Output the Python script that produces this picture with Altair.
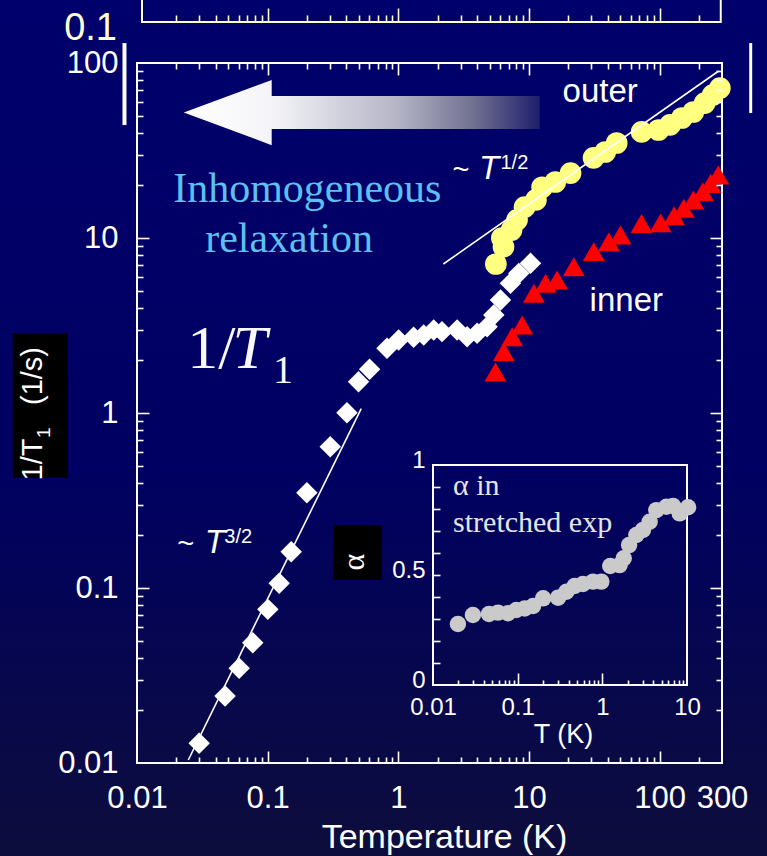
import altair as alt
import pandas as pd

# ---------------- data ----------------
diamond_T = [0.0299, 0.0472, 0.0605, 0.0769, 0.1003, 0.1225, 0.1514, 0.1995, 0.3013, 0.4044,
             0.496, 0.6026, 0.819, 1.005, 1.31, 1.563, 1.865, 2.16, 2.818, 3.36, 4.01, 4.78,
             5.38, 6.05, 7.21, 8.36, 10.27]
diamond_rate = [0.01296, 0.02415, 0.03476, 0.0487, 0.0755, 0.1064, 0.1612, 0.3504, 0.6418, 1.004,
                1.51, 1.777, 2.343, 2.612, 2.707, 2.79, 2.98, 2.917, 2.98, 2.73, 2.853, 3.113,
                3.63, 4.42, 5.51, 6.28, 7.17]
outer_T = [5.58, 6.38, 6.2, 7.35, 8.1, 9.25, 11.3, 12.6, 15.9, 20.8, 31.2, 38.3, 46.9, 72.8,
           98, 120, 148, 181, 221, 254, 289]
outer_rate = [7.1, 8.9, 10.0, 11.1, 12.7, 15.0, 16.5, 19.5, 20.9, 23.5, 28.7, 31.0, 34.9, 40.4,
              41.4, 44.3, 48.5, 52.5, 59.0, 65.6, 71.9]
inner_T = [5.54, 6.41, 7.43, 8.87, 10.9, 13.4, 16.4, 22.0, 31.3, 40.9, 50.1, 72.6, 101.8,
           128.9, 152.8, 181, 214, 245, 280.5]
inner_rate = [1.715, 2.24, 2.73, 3.18, 4.83, 5.51, 5.75, 6.86, 8.36, 9.53, 10.4, 12.1, 12.2,
              13.4, 14.8, 16.5, 18.4, 20.5, 22.9]
fit_half_T = [2.21, 283]
fit_half_rate = [7.1, 90]
fit_threehalf_T = [0.0247, 0.52]
fit_threehalf_rate = [0.0104, 1.06]

alpha_T = [0.0197, 0.0296, 0.0458, 0.0586, 0.0769, 0.0964, 0.121, 0.152, 0.2, 0.3, 0.376,
           0.471, 0.591, 0.776, 0.973, 1.24, 1.6, 1.79, 2.07, 2.52, 3.02, 3.62, 4.34, 5.7,
           6.84, 8.2, 10.3]
alpha_val = [0.277, 0.318, 0.323, 0.329, 0.326, 0.341, 0.348, 0.359, 0.394, 0.397, 0.424,
             0.45, 0.459, 0.47, 0.47, 0.541, 0.545, 0.576, 0.636, 0.682, 0.705, 0.742, 0.795,
             0.81, 0.814, 0.78, 0.808]

# tick values / labels
main_x_labels = [0.01, 0.1, 1, 10, 100, 300]
main_y_labels = [0.01, 0.1, 1, 10, 100]
main_x_major = [0.1, 1, 10, 100]
main_x_minor = [0.02, 0.03, 0.04, 0.05, 0.06, 0.07, 0.08, 0.09,
                0.2, 0.3, 0.4, 0.5, 0.6, 0.7, 0.8, 0.9,
                2, 3, 4, 5, 6, 7, 8, 9,
                20, 30, 40, 50, 60, 70, 80, 90, 200]
main_y_major = [0.1, 1, 10]
main_y_minor = [0.02, 0.03, 0.04, 0.05, 0.06, 0.07, 0.08, 0.09,
                0.2, 0.3, 0.4, 0.5, 0.6, 0.7, 0.8, 0.9,
                2, 3, 4, 5, 6, 7, 8, 9,
                20, 30, 40, 50, 60, 70, 80, 90]
inset_x_labels = [0.01, 0.1, 1, 10]
inset_x_major = [0.1, 1]
inset_x_minor = [0.02, 0.03, 0.04, 0.05, 0.06, 0.07, 0.08, 0.09,
                 0.2, 0.3, 0.4, 0.5, 0.6, 0.7, 0.8, 0.9,
                 2, 3, 4, 5, 6, 7, 8, 9]
inset_y_labels = [0, 0.5, 1]
inset_y_ticks = [0.1, 0.2, 0.3, 0.4, 0.5, 0.6, 0.7, 0.8, 0.9]

# decoration anchors (in data units of the main / inset scales)
main_frame = dict(x=[0.01], x2=[300], y=[0.01], y2=[100])
inset_frame = dict(x=[0.01], x2=[10], y=[0.0], y2=[1.0])
top_panel = dict(x=[0.01092], x2=[293.5], y=[171.4], y2=[400.0])
side_bars = dict(x=[0.00802, 497.6], y=[130.0, 130.0], y2=[44.2, 51.8], w=[4, 3])

# ---------------- scales ----------------
W, H = 767, 856
MX = dict(type='log', domain=[0.01, 300], range=[137, 722], nice=False)
MY = dict(type='log', domain=[0.01, 100], range=[763, 63], nice=False)
IX = dict(type='log', domain=[0.01, 10], range=[433, 687], nice=False)
IY = dict(type='linear', domain=[0, 1], range=[685, 465], nice=False, zero=False)

SANS = 'Liberation Sans'
SERIF = 'Liberation Serif'
CREAM = '#ffffd6'


def enc(xs, ys, xaxis=None, yaxis=None, x2=False, y2=False):
    e = dict(x=alt.X('x:Q', scale=alt.Scale(**xs), axis=xaxis),
             y=alt.Y('y:Q', scale=alt.Scale(**ys), axis=yaxis))
    if x2:
        e['x2'] = alt.X2('x2:Q')
    if y2:
        e['y2'] = alt.Y2('y2:Q')
    return e


def text_layer(items, xs, ys, **mark):
    df = pd.DataFrame(items, columns=['x', 'y', 't'])
    return alt.Chart(df).mark_text(**mark).encode(text='t:N', **enc(xs, ys))


def tick_axis(orient, offset, values, size, color='#ffffff', width=1.6):
    return alt.Axis(orient=orient, offset=offset, values=values, labels=False, domain=False,
                    ticks=True, tickSize=size, tickWidth=width, tickColor=color, grid=False,
                    title=None, zindex=1)


def label_axis(orient, offset, values, fsize, pad, title=None, **kw):
    return alt.Axis(orient=orient, offset=offset, values=values, format='~g', labels=True,
                    ticks=False, tickSize=0, domain=False, grid=False, labelFont=SANS,
                    labelFontSize=fsize, labelColor='#ffffff', labelPadding=pad,
                    labelOverlap=False, labelFlush=False, labelBound=False, zindex=1,
                    title=title, **kw)


axis_df = pd.DataFrame({'x': [1.0], 'y': [0.5]})


def axis_layer(xs, ys, xaxis=None, yaxis=None):
    return alt.Chart(axis_df).mark_point(opacity=0).encode(**enc(xs, ys, xaxis, yaxis))


layers = []

# background gradient
bg_grad = alt.LinearGradient(gradient='linear', x1=0, x2=0, y1=0, y2=1, stops=[
    alt.GradientStop(color='#00006c', offset=0),
    alt.GradientStop(color='#000062', offset=0.55),
    alt.GradientStop(color='#0d0d3c', offset=1)])
layers.append(alt.Chart(pd.DataFrame({'k': [0]})).mark_rect(fill=bg_grad, strokeWidth=0).encode(
    x=alt.value(0), x2=alt.value('width'), y=alt.value(0), y2=alt.value('height')))

# top partial panel (cropped previous figure)
layers.append(alt.Chart(pd.DataFrame(top_panel)).mark_rect(
    fillOpacity=0, stroke=CREAM, strokeWidth=2).encode(**enc(MX, MY, x2=True, y2=True)))
layers.append(text_layer([(0.00703, 135.3, '0.1')], MX, MY, font=SANS, fontSize=38,
                         color=CREAM, align='right', baseline='alphabetic'))
layers.append(axis_layer(MX, MY, xaxis=tick_axis('top', -22, main_x_major, 14, CREAM)))
layers.append(axis_layer(MX, MY, xaxis=tick_axis('top', -22, main_x_minor, 7, CREAM)))

# white side bars
sb = pd.DataFrame(side_bars)
layers.append(alt.Chart(sb).mark_rule(color='#ffffff').encode(
    strokeWidth=alt.StrokeWidth('w:Q', scale=None), **enc(MX, MY, y2=True)))

# gradient arrow
arrow_path = ('M-1,0L-0.506,-0.183L-0.506,-0.093L1,-0.093L1,0.093L-0.506,0.093'
              'L-0.506,0.183Z')
arrow_grad = alt.LinearGradient(gradient='linear', x1=0, x2=1, y1=0, y2=0, stops=[
    alt.GradientStop(color='#ffffff', offset=0),
    alt.GradientStop(color='#f4f4f8', offset=0.25),
    alt.GradientStop(color='#b4b4c6', offset=0.6),
    alt.GradientStop(color='#6e6e90', offset=0.82),
    alt.GradientStop(color='#1e1e6c', offset=1)])
layers.append(alt.Chart(pd.DataFrame({'x': [0.525], 'y': [52.1]})).mark_point(
    shape=arrow_path, size=126736, filled=True, fill=arrow_grad, strokeWidth=0,
    opacity=1).encode(**enc(MX, MY)))

# "Inhomogeneous relaxation"
layers.append(text_layer([(0.201, 16.06, 'Inhomogeneous'), (0.146, 8.32, 'relaxation')],
                         MX, MY, font=SERIF, fontSize=42, color='#5dc1f0', align='center',
                         baseline='alphabetic'))

# big 1/T1 label
layers.append(text_layer([(0.0242, 1.807, '1/')], MX, MY, font=SERIF, fontSize=62,
                         color='#f8f8f8', align='left', baseline='alphabetic'))
layers.append(text_layer([(0.0537, 1.807, 'T')], MX, MY, font=SERIF, fontSize=62,
                         fontStyle='italic', color='#f8f8f8', align='left',
                         baseline='alphabetic'))
layers.append(text_layer([(0.1100, 1.484, '1')], MX, MY, font=SERIF, fontSize=40,
                         color='#f8f8f8', align='left', baseline='alphabetic'))

# y-axis title on a black box
layers.append(alt.Chart(pd.DataFrame(dict(x=[0.00112], x2=[0.00296], y=[2.864], y2=[0.425])))
              .mark_rect(color='#000000').encode(**enc(MX, MY, x2=True, y2=True)))
layers.append(text_layer([(0.00187, 0.412, '1/T'), (0.00187, 1.111, '(1/s)')], MX, MY,
                         font=SANS, fontSize=29, color='#ffffff', align='left',
                         baseline='alphabetic', angle=270))
layers.append(text_layer([(0.00215, 0.72, '1')], MX, MY, font=SANS, fontSize=19,
                         color='#ffffff', align='left', baseline='alphabetic', angle=270))

# main frame
layers.append(alt.Chart(pd.DataFrame(main_frame)).mark_rect(
    fillOpacity=0, stroke='#ffffff', strokeWidth=2).encode(**enc(MX, MY, x2=True, y2=True)))

# data series
layers.append(alt.Chart(pd.DataFrame({'x': diamond_T, 'y': diamond_rate})).mark_point(
    shape='diamond', size=460, filled=True, color='#ffffff', opacity=1).encode(**enc(MX, MY)))
layers.append(alt.Chart(pd.DataFrame({'x': inner_T, 'y': inner_rate})).mark_point(
    shape='triangle-up', size=480, filled=True, color='#ff0000', opacity=1).encode(**enc(MX, MY)))
layers.append(alt.Chart(pd.DataFrame({'x': outer_T, 'y': outer_rate})).mark_point(
    shape='circle', size=470, filled=True, color='#ffff80', opacity=1).encode(**enc(MX, MY)))

# power-law guide lines
layers.append(alt.Chart(pd.DataFrame({'x': fit_half_T, 'y': fit_half_rate})).mark_line(
    color='#ffffff', strokeWidth=1.6).encode(**enc(MX, MY)))
layers.append(alt.Chart(pd.DataFrame({'x': fit_threehalf_T, 'y': fit_threehalf_rate})).mark_line(
    color='#ffffff', strokeWidth=1.6).encode(**enc(MX, MY)))

# annotations
layers.append(text_layer([(18.06, 59.8, 'outer'), (29.1, 3.83, 'inner')], MX, MY, font=SANS,
                         fontSize=33, color='#ffffff', align='left', baseline='alphabetic'))
layers.append(text_layer([(2.60, 21.7, '~'), (0.0203, 0.158, '~')], MX, MY, font=SANS,
                         fontSize=29, color='#ffffff', align='left', baseline='alphabetic'))
layers.append(text_layer([(4.15, 21.7, 'T'), (0.0330, 0.158, 'T')], MX, MY, font=SANS,
                         fontSize=33, fontStyle='italic', color='#ffffff', align='left',
                         baseline='alphabetic'))
layers.append(text_layer([(6.05, 24.8, '1/2'), (0.0466, 0.181, '3/2')], MX, MY, font=SANS,
                         fontSize=20, color='#ffffff', align='left', baseline='alphabetic'))

# inset
layers.append(alt.Chart(pd.DataFrame(inset_frame)).mark_rect(
    fillOpacity=0, stroke='#ffffff', strokeWidth=2).encode(**enc(IX, IY, x2=True, y2=True)))
layers.append(alt.Chart(pd.DataFrame({'x': alpha_T, 'y': alpha_val})).mark_point(
    shape='circle', size=270, filled=True, color='#cacaca', opacity=1).encode(**enc(IX, IY)))
layers.append(text_layer([(0.01726, 0.8636, 'α in'), (0.01726, 0.6955, 'stretched exp')],
                         IX, IY, font=SERIF, fontSize=30, color='#e4e4e4', align='left',
                         baseline='alphabetic'))
layers.append(alt.Chart(pd.DataFrame(dict(x=[0.00067], x2=[0.00248], y=[0.727], y2=[0.477])))
              .mark_rect(color='#000000').encode(**enc(IX, IY, x2=True, y2=True)))
layers.append(text_layer([(0.00116, 0.559, 'α')], IX, IY, font=SERIF, fontSize=32,
                         color='#ffffff', align='center', baseline='middle', angle=270))

# ---------------- axes ----------------
# main: labels
layers.append(axis_layer(
    MX, MY,
    xaxis=label_axis('bottom', 763 - H, main_x_labels, 31, 20, title='Temperature (K)',
                     titleFont=SANS, titleFontSize=34, titleFontWeight='normal',
                     titleColor='#ffffff', titleX=444, titleY=84, titleAlign='center',
                     titleBaseline='alphabetic'),
    yaxis=label_axis('left', -137, main_y_labels, 31, 19)))
# main: inward ticks on bottom / left
layers.append(axis_layer(MX, MY, xaxis=tick_axis('top', -763, main_x_major, 12),
                         yaxis=tick_axis('right', 137 - W, main_y_major, 12)))
layers.append(axis_layer(MX, MY, xaxis=tick_axis('top', -763, main_x_minor, 6),
                         yaxis=tick_axis('right', 137 - W, main_y_minor, 6)))
# main: inward ticks on top / right
layers.append(axis_layer(MX, MY, xaxis=tick_axis('bottom', 63 - H, main_x_major, 12),
                         yaxis=tick_axis('left', -722, main_y_major, 12)))
layers.append(axis_layer(MX, MY, xaxis=tick_axis('bottom', 63 - H, main_x_minor, 6),
                         yaxis=tick_axis('left', -722, main_y_minor, 6)))
# inset axes
layers.append(axis_layer(
    IX, IY,
    xaxis=label_axis('bottom', 685 - H, inset_x_labels, 24, 10, title='T (K)',
                     titleFont=SANS, titleFontSize=27, titleFontWeight='normal',
                     titleColor='#ffffff', titleX=563, titleY=57, titleAlign='center',
                     titleBaseline='alphabetic'),
    yaxis=label_axis('left', -433, inset_y_labels, 24, 8, labelOffset=-5)))
layers.append(axis_layer(IX, IY, xaxis=tick_axis('top', -685, inset_x_major, 12),
                         yaxis=tick_axis('right', 433 - W, inset_y_ticks, 7)))
layers.append(axis_layer(IX, IY, xaxis=tick_axis('top', -685, inset_x_minor, 5)))

chart = (alt.layer(*layers)
         .resolve_scale(x='independent', y='independent')
         .resolve_axis(x='independent', y='independent')
         .properties(width=W, height=H, autosize='none', padding=0, background='#000066')
         .configure_view(strokeWidth=0)
         .configure(font=SANS))

chart.save("out.html", embed_options={"renderer": "svg", "actions": False})
